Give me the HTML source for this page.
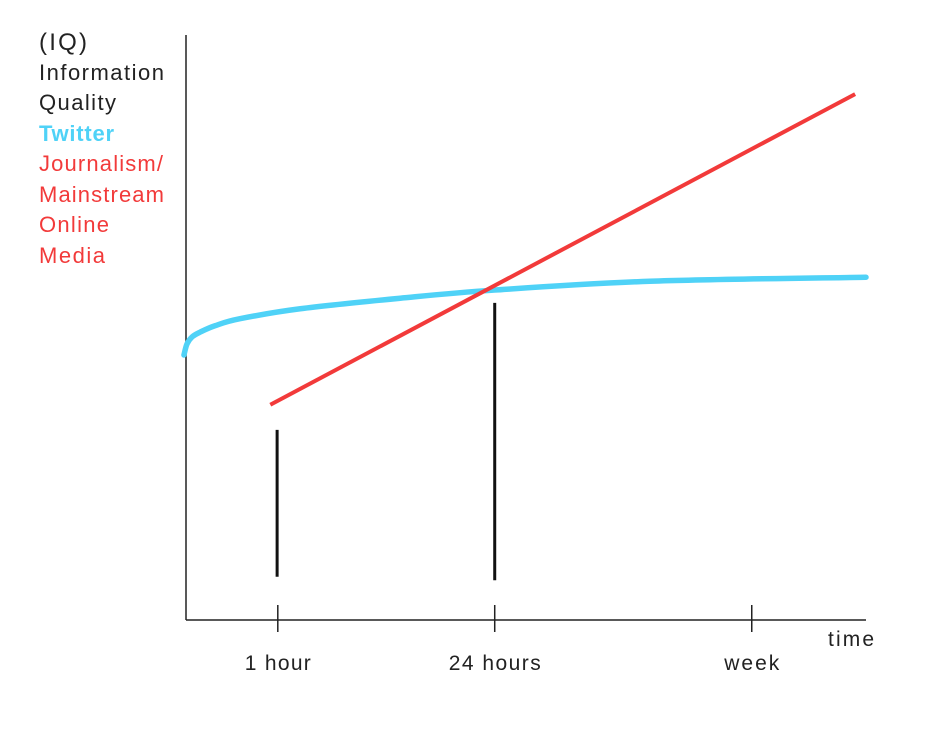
<!DOCTYPE html>
<html><head><meta charset="utf-8"><style>
html,body{margin:0;padding:0;background:#fff;}
svg{display:block;}
text{font-family:"Liberation Sans",sans-serif;}
</style></head><body>
<svg id="chart" width="941" height="732" viewBox="0 0 941 732">
<g font-size="22">
<text x="39" y="50" font-size="24" textLength="48" fill="#222">(IQ)</text>
<text x="39" y="80" fill="#222" textLength="125">Information</text>
<text x="39" y="110" fill="#222" textLength="77">Quality</text>
<text x="39" y="141" fill="#4fd2f7" font-weight="bold" textLength="75">Twitter</text>
<text x="39" y="171" fill="#f23a3a" textLength="124">Journalism/</text>
<text x="39" y="202" fill="#f23a3a" textLength="125">Mainstream</text>
<text x="39" y="232" fill="#f23a3a" textLength="70">Online</text>
<text x="39" y="263" fill="#f23a3a" textLength="66">Media</text>
</g>
<line x1="186" y1="35" x2="186" y2="620" stroke="#222" stroke-width="1.5"/>
<line x1="186" y1="620" x2="866" y2="620" stroke="#222" stroke-width="1.5"/>
<text x="828" y="646" font-size="21" textLength="46" fill="#222">time</text>
<g id="marks"></g>
</svg>
<script>
const tickLabels = ["1 hour", "24 hours", "week"];
const tickPos = [13.5, 45.4, 83.2];
const twitterX = [-0.3, 0.15, 0.9, 2.06, 4.26, 7.94, 16.8, 31.5, 45.4, 68.2, 100];
const twitterY = [45.3, 47.2, 48.4, 49.2, 50.3, 51.5, 53.2, 55.0, 56.4, 57.9, 58.6];
const mediaX = [12.4, 98.4];
const mediaY = [36.8, 89.9];
const markerX = [13.4, 45.4];
const markerTop = [32.5, 54.2];
const markerBottom = [7.4, 6.8];

const xs = v => 186 + v * 6.8;
const ys = v => 620 - v * 5.85;
const NS = "http://www.w3.org/2000/svg";
const g = document.getElementById("marks");
function mk(tag, attrs) { const e = document.createElementNS(NS, tag); for (const k in attrs) e.setAttribute(k, attrs[k]); g.appendChild(e); return e; }

const tickWidths = [66, 92, 55];
tickPos.forEach((t, i) => {
  const l = mk("line", {x1: xs(t), x2: xs(t), y1: 605, y2: 632, stroke: "#222", "stroke-width": 1.5});
  
  
  const tx = mk("text", {x: xs(t) - tickWidths[i] / 2, y: 670, "font-size": 21, fill: "#222", textLength: tickWidths[i]});
  tx.textContent = tickLabels[i];
  
  
});

markerX.forEach((t, i) => {
  const l = mk("line", {x1: xs(t), x2: xs(t), y1: ys(markerTop[i]), y2: ys(markerBottom[i]), stroke: "#111", "stroke-width": 3});
  
  
});

const pts = twitterX.map((t, i) => [xs(t), ys(twitterY[i])]);
let d = "M" + pts[0][0] + " " + pts[0][1];
for (let i = 0; i < pts.length - 1; i++) {
  const p0 = pts[Math.max(0, i - 1)], p1 = pts[i], p2 = pts[i + 1], p3 = pts[Math.min(pts.length - 1, i + 2)];
  const c1 = [p1[0] + (p2[0] - p0[0]) / 6, p1[1] + (p2[1] - p0[1]) / 6];
  const c2 = [p2[0] - (p3[0] - p1[0]) / 6, p2[1] - (p3[1] - p1[1]) / 6];
  d += " C" + c1[0] + " " + c1[1] + " " + c2[0] + " " + c2[1] + " " + p2[0] + " " + p2[1];
}
const tw = mk("path", {d: d, fill: "none", stroke: "#4fd2f7", "stroke-width": 5.5, "stroke-linejoin": "round", "stroke-linecap": "round"});



let d2 = "";
mediaX.forEach((t, i) => { d2 += (i ? " L" : "M") + xs(t) + " " + ys(mediaY[i]); });
const md = mk("path", {d: d2, fill: "none", stroke: "#f23a3a", "stroke-width": 4});


</script>
</body></html>
